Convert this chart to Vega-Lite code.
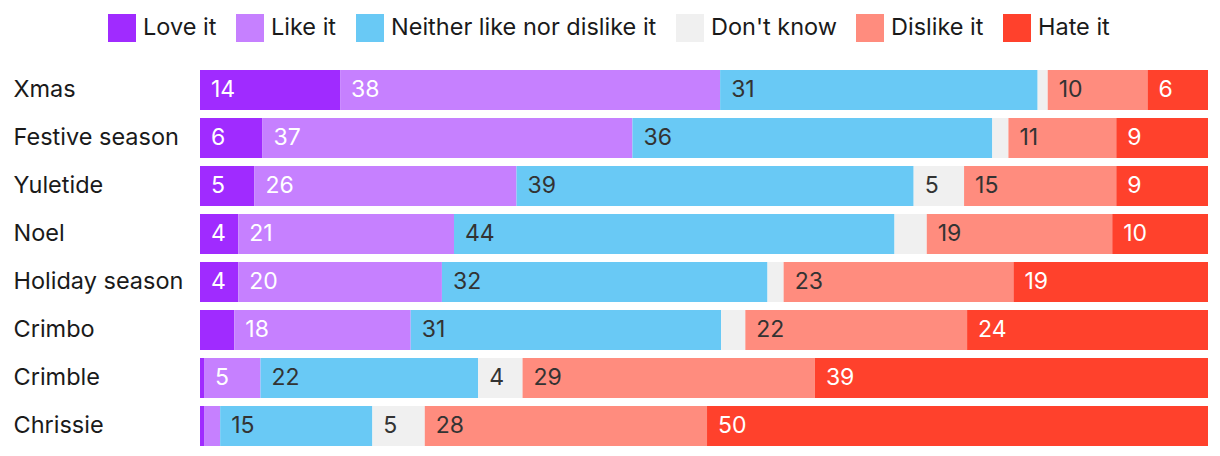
{
  "$schema": "https://vega.github.io/schema/vega-lite/v6.json",
  "width": 1008,
  "height": 384,
  "autosize": {"type": "none"},
  "padding": {"left": 200, "top": 66, "right": 12, "bottom": 6},
  "background": "white",
  "config": {"view": {"stroke": null}, "font": "Inter"},
  "data": {
    "values": [
      {"term": "Xmas", "response": "Love it", "value": 13.9, "label": "14"},
      {"term": "Xmas", "response": "Like it", "value": 37.7, "label": "38"},
      {"term": "Xmas", "response": "Neither like nor dislike it", "value": 31.5, "label": "31"},
      {"term": "Xmas", "response": "Don't know", "value": 1.0, "label": ""},
      {"term": "Xmas", "response": "Dislike it", "value": 9.9, "label": "10"},
      {"term": "Xmas", "response": "Hate it", "value": 6.0, "label": "6"},
      {"term": "Festive season", "response": "Love it", "value": 6.2, "label": "6"},
      {"term": "Festive season", "response": "Like it", "value": 36.7, "label": "37"},
      {"term": "Festive season", "response": "Neither like nor dislike it", "value": 35.7, "label": "36"},
      {"term": "Festive season", "response": "Don't know", "value": 1.6, "label": ""},
      {"term": "Festive season", "response": "Dislike it", "value": 10.7, "label": "11"},
      {"term": "Festive season", "response": "Hate it", "value": 9.1, "label": "9"},
      {"term": "Yuletide", "response": "Love it", "value": 5.4, "label": "5"},
      {"term": "Yuletide", "response": "Like it", "value": 26.0, "label": "26"},
      {"term": "Yuletide", "response": "Neither like nor dislike it", "value": 39.4, "label": "39"},
      {"term": "Yuletide", "response": "Don't know", "value": 5.0, "label": "5"},
      {"term": "Yuletide", "response": "Dislike it", "value": 15.1, "label": "15"},
      {"term": "Yuletide", "response": "Hate it", "value": 9.1, "label": "9"},
      {"term": "Noel", "response": "Love it", "value": 3.8, "label": "4"},
      {"term": "Noel", "response": "Like it", "value": 21.4, "label": "21"},
      {"term": "Noel", "response": "Neither like nor dislike it", "value": 43.7, "label": "44"},
      {"term": "Noel", "response": "Don't know", "value": 3.2, "label": ""},
      {"term": "Noel", "response": "Dislike it", "value": 18.4, "label": "19"},
      {"term": "Noel", "response": "Hate it", "value": 9.5, "label": "10"},
      {"term": "Holiday season", "response": "Love it", "value": 3.8, "label": "4"},
      {"term": "Holiday season", "response": "Like it", "value": 20.2, "label": "20"},
      {"term": "Holiday season", "response": "Neither like nor dislike it", "value": 32.3, "label": "32"},
      {"term": "Holiday season", "response": "Don't know", "value": 1.6, "label": ""},
      {"term": "Holiday season", "response": "Dislike it", "value": 22.8, "label": "23"},
      {"term": "Holiday season", "response": "Hate it", "value": 19.3, "label": "19"},
      {"term": "Crimbo", "response": "Love it", "value": 3.4, "label": ""},
      {"term": "Crimbo", "response": "Like it", "value": 17.5, "label": "18"},
      {"term": "Crimbo", "response": "Neither like nor dislike it", "value": 30.8, "label": "31"},
      {"term": "Crimbo", "response": "Don't know", "value": 2.4, "label": ""},
      {"term": "Crimbo", "response": "Dislike it", "value": 22.0, "label": "22"},
      {"term": "Crimbo", "response": "Hate it", "value": 23.9, "label": "24"},
      {"term": "Crimble", "response": "Love it", "value": 0.4, "label": ""},
      {"term": "Crimble", "response": "Like it", "value": 5.6, "label": "5"},
      {"term": "Crimble", "response": "Neither like nor dislike it", "value": 21.6, "label": "22"},
      {"term": "Crimble", "response": "Don't know", "value": 4.4, "label": "4"},
      {"term": "Crimble", "response": "Dislike it", "value": 29.0, "label": "29"},
      {"term": "Crimble", "response": "Hate it", "value": 39.0, "label": "39"},
      {"term": "Chrissie", "response": "Love it", "value": 0.4, "label": ""},
      {"term": "Chrissie", "response": "Like it", "value": 1.6, "label": ""},
      {"term": "Chrissie", "response": "Neither like nor dislike it", "value": 15.1, "label": "15"},
      {"term": "Chrissie", "response": "Don't know", "value": 5.2, "label": "5"},
      {"term": "Chrissie", "response": "Dislike it", "value": 28.0, "label": "28"},
      {"term": "Chrissie", "response": "Hate it", "value": 49.7, "label": "50"}
    ]
  },
  "transform": [
    {"calculate": "indexof(['Love it','Like it','Neither like nor dislike it',\"Don't know\",'Dislike it','Hate it'], datum.response)", "as": "o"},
    {"stack": "value", "groupby": ["term"], "sort": [{"field": "o", "order": "ascending"}], "as": ["x0", "x1"]}
  ],
  "encoding": {
    "y": {
      "field": "term",
      "type": "nominal",
      "sort": ["Xmas", "Festive season", "Yuletide", "Noel", "Holiday season", "Crimbo", "Crimble", "Chrissie"],
      "scale": {"paddingInner": 0.1667, "paddingOuter": 0.0833},
      "axis": {
        "title": null,
        "domain": false,
        "ticks": false,
        "tickSize": 0,
        "labelAlign": "left",
        "labelBaseline": "middle",
        "labelPadding": 187,
        "labelFontSize": 23.5,
        "labelColor": "#1a1a1a",
        "labelLimit": 190
      }
    }
  },
  "layer": [
    {
      "mark": {"type": "bar"},
      "encoding": {
        "x": {"field": "x0", "type": "quantitative", "scale": {"domain": [0, 100], "nice": false, "zero": true}, "axis": null},
        "x2": {"field": "x1"},
        "color": {
          "field": "response",
          "type": "nominal",
          "scale": {
            "domain": ["Love it", "Like it", "Neither like nor dislike it", "Don't know", "Dislike it", "Hate it"],
            "range": ["#A02BFF", "#C680FF", "#69C9F5", "#F0F0F0", "#FF8C7E", "#FF412C"]
          },
          "legend": {
            "title": null,
            "orient": "none",
            "legendX": -92,
            "legendY": -52,
            "direction": "horizontal",
            "columns": 6,
            "symbolType": "square",
            "symbolSize": 784,
            "symbolStrokeWidth": 0,
            "symbolOpacity": 1,
            "labelFontSize": 23.5,
            "labelColor": "#1a1a1a",
            "labelOffset": 7,
            "columnPadding": 19,
            "labelLimit": 400
          }
        }
      }
    },
    {
      "mark": {"type": "text", "align": "left", "baseline": "middle", "dx": 11, "fontSize": 23},
      "encoding": {
        "x": {"field": "x0", "type": "quantitative"},
        "text": {"field": "label"},
        "color": {
          "condition": {"test": "indexof(['Love it','Like it','Hate it'], datum.response) >= 0", "value": "#ffffff"},
          "value": "#333333"
        }
      }
    }
  ]
}
